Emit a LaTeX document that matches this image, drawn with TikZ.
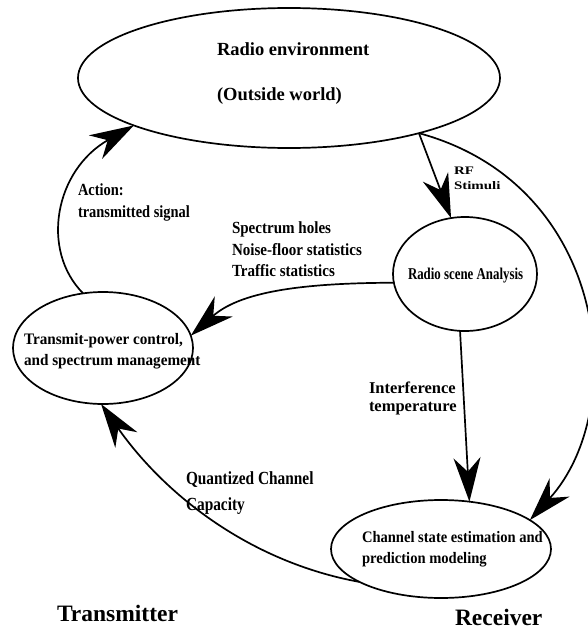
\documentclass[tikz,border=0pt]{standalone}
\usepackage{fontspec}
\setmainfont{Liberation Serif}
\usepackage{graphicx}
\usetikzlibrary{shapes.geometric,arrows.meta}
\newcommand\lbltext[3]{{\fontsize{#1}{#1}\selectfont\bfseries\scalebox{#2}[1]{#3}}}
\begin{document}
\begin{tikzpicture}[x=1pt,y=-1pt,
  oval/.style={draw, ellipse, line width=1.7pt, inner sep=0pt, outer sep=0pt},
  conn/.style={line width=1.7pt, -{Stealth[length=44pt,width=27pt,inset=14pt]}},
  lab/.style={anchor=base west, inner sep=0pt, outer sep=0pt}]
\useasboundingbox (0,0) rectangle (587,629);
% ellipses
\node[oval, minimum width=422pt, minimum height=140pt] (env) at (289,78) {};
\node[oval, minimum width=144pt, minimum height=114pt] (rsa) at (465,274) {};
\node[oval, minimum width=180pt, minimum height=112pt] (tx) at (103,348) {};
\node[oval, minimum width=220pt, minimum height=98pt] (ch) at (441,549) {};
% connectors
\draw[conn] (tx.110) .. controls (40,250) and (55,170) .. (env.197);
\draw[conn] (env.337) -- (rsa.104);
\draw[conn] (env.337) .. controls (610,185) and (630,410) .. (ch.18);
\draw[conn] (rsa.187) .. controls (300,283) and (240,292) .. (tx.8);
\draw[conn] (rsa.265) -- (ch.59);
\draw[conn] (ch.202) .. controls (250,562) and (165,495) .. (tx.268);
% labels
\node[lab] (l1) at (217,55) {\lbltext{18.5}{1}{Radio environment}};
\node[lab] (l2) at (217,100) {\lbltext{18.5}{1}{(Outside world)}};
\node[lab] (l3) at (454,174) {\lbltext{11.5}{1.3}{RF}};
\node[lab] (l4) at (454,189) {\lbltext{11.5}{1.3}{Stimuli}};
\node[lab] (l5) at (78,195) {\lbltext{17}{0.85}{Action:}};
\node[lab] (l6) at (78,217) {\lbltext{17}{0.85}{transmitted signal}};
\node[lab] (l7) at (232,233) {\lbltext{17}{0.885}{Spectrum holes}};
\node[lab] (l8) at (232,255) {\lbltext{17}{0.885}{Noise-floor statistics}};
\node[lab] (l9) at (232,276) {\lbltext{17}{0.885}{Traffic statistics}};
\node[lab] (l10) at (408,279) {\lbltext{16.5}{0.78}{Radio scene Analysis}};
\node[lab] (l11) at (24,344) {\lbltext{16}{0.95}{Transmit-power control,}};
\node[lab] (l12) at (24,365) {\lbltext{16}{0.95}{and spectrum management}};
\node[lab] (l13) at (369,393) {\lbltext{16.5}{1}{Interference}};
\node[lab] (l14) at (369,411) {\lbltext{16.5}{1}{temperature}};
\node[lab] (l15) at (186,484) {\lbltext{18.5}{0.83}{Quantized Channel}};
\node[lab] (l16) at (186,510) {\lbltext{18.5}{0.83}{Capacity}};
\node[lab] (l17) at (362,542) {\lbltext{16}{0.91}{Channel state estimation and}};
\node[lab] (l18) at (362,563) {\lbltext{16}{0.91}{prediction modeling}};
\node[lab] (l19) at (57,621) {\lbltext{23.5}{1}{Transmitter}};
\node[lab] (l20) at (455,625) {\lbltext{23.5}{1}{Receiver}};
\end{tikzpicture}
\end{document}
